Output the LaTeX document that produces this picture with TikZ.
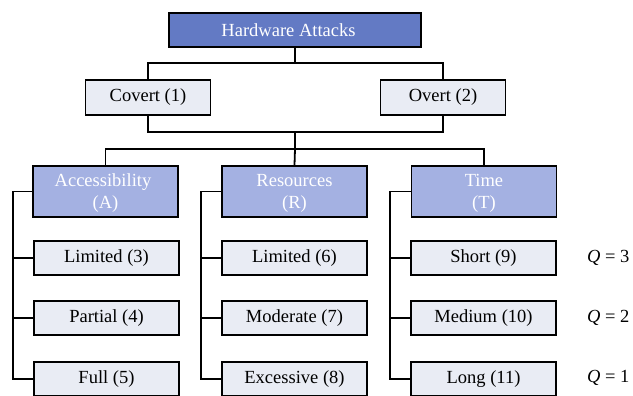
\documentclass[tikz,border=0pt]{standalone}
\usepackage{fontspec}
\setmainfont{Liberation Serif}
\definecolor{rootblue}{RGB}{99,122,196}
\definecolor{catblue}{RGB}{164,177,226}
\definecolor{leafgray}{RGB}{233,236,244}
\begin{document}
\begin{tikzpicture}[x=1pt,y=-1pt,
  every node/.style={font=\fontsize{18.5}{22}\selectfont, inner sep=0pt},
  box/.style={draw=black, line width=1.8pt, rectangle, align=center},
  rootbox/.style={box, fill=rootblue, text=white, minimum width=252pt, minimum height=34pt},
  modebox/.style={box, fill=leafgray, minimum width=125pt, minimum height=35pt},
  catbox/.style={box, fill=catblue, text=white, minimum width=145pt, minimum height=51pt},
  leafbox/.style={box, fill=leafgray, minimum width=145pt, minimum height=34pt},
  link/.style={draw=black, line width=1.8pt, line join=miter},
  qlabel/.style={anchor=west}]
\useasboundingbox (0,0) rectangle (633,396);

% root and attack modes
\node[rootbox] (ha) at (295,30) {Hardware Attacks\hspace*{13pt}};
\node[modebox] (covert) at (148,97.5) {Covert (1)};
\node[modebox] (overt) at (443,97.5) {Overt (2)};

% categories (two-line labels, set slightly low in the box)
\node[catbox] (acc) at (105.5,191.5) {\rule{0pt}{16pt}Accessibility\hspace*{5pt}\\(A)};
\node[catbox] (res) at (294.5,191.5) {\rule{0pt}{16pt}Resources\\(R)};
\node[catbox] (tim) at (484,191.5) {\rule{0pt}{16pt}Time\\(T)};

% accessibility levels
\node[leafbox] (a3) at (106.5,258) {Limited (3)};
\node[leafbox] (a4) at (106.5,318) {Partial (4)};
\node[leafbox] (a5) at (106.5,379) {Full (5)};
% resource levels
\node[leafbox] (r6) at (294.5,258) {Limited (6)};
\node[leafbox] (r7) at (294.5,318) {Moderate (7)};
\node[leafbox] (r8) at (294.5,379) {Excessive (8)};
% time levels
\node[leafbox] (t9) at (483.5,258) {Short (9)};
\node[leafbox] (t10) at (483.5,318) {Medium (10)};
\node[leafbox] (t11) at (483.5,379) {Long (11)};

% quality scores
\node[qlabel] (q3) at (587,258) {\textit{Q} = 3};
\node[qlabel] (q2) at (587,318) {\textit{Q} = 2};
\node[qlabel] (q1) at (587,378) {\textit{Q} = 1};

% tree connectors
\coordinate (j1) at (295,132);
\coordinate (j2) at (295,149);
\draw[link] (covert.north) |- (ha.south |- 0,63) -| (overt.north);
\draw[link] (ha.south) -- (ha.south |- 0,63);
\draw[link] (covert.south) |- (j1) -| (overt.south);
\draw[link] (j1) -- (j2);
\draw[link] (acc.north) |- (j2) -| (tim.north);
\draw[link] (j2) -- (res.north);

% side brackets
\foreach \c/\x/\a/\b/\e in {acc/13/a3/a4/a5, res/201/r6/r7/r8, tim/390/t9/t10/t11}{
  \draw[link] (\c.west) -| (\x,0 |- \e.west) -- (\e.west);
  \draw[link] (\a.west) -- (\x,0 |- \a.west);
  \draw[link] (\b.west) -- (\x,0 |- \b.west);
}
\end{tikzpicture}
\end{document}
